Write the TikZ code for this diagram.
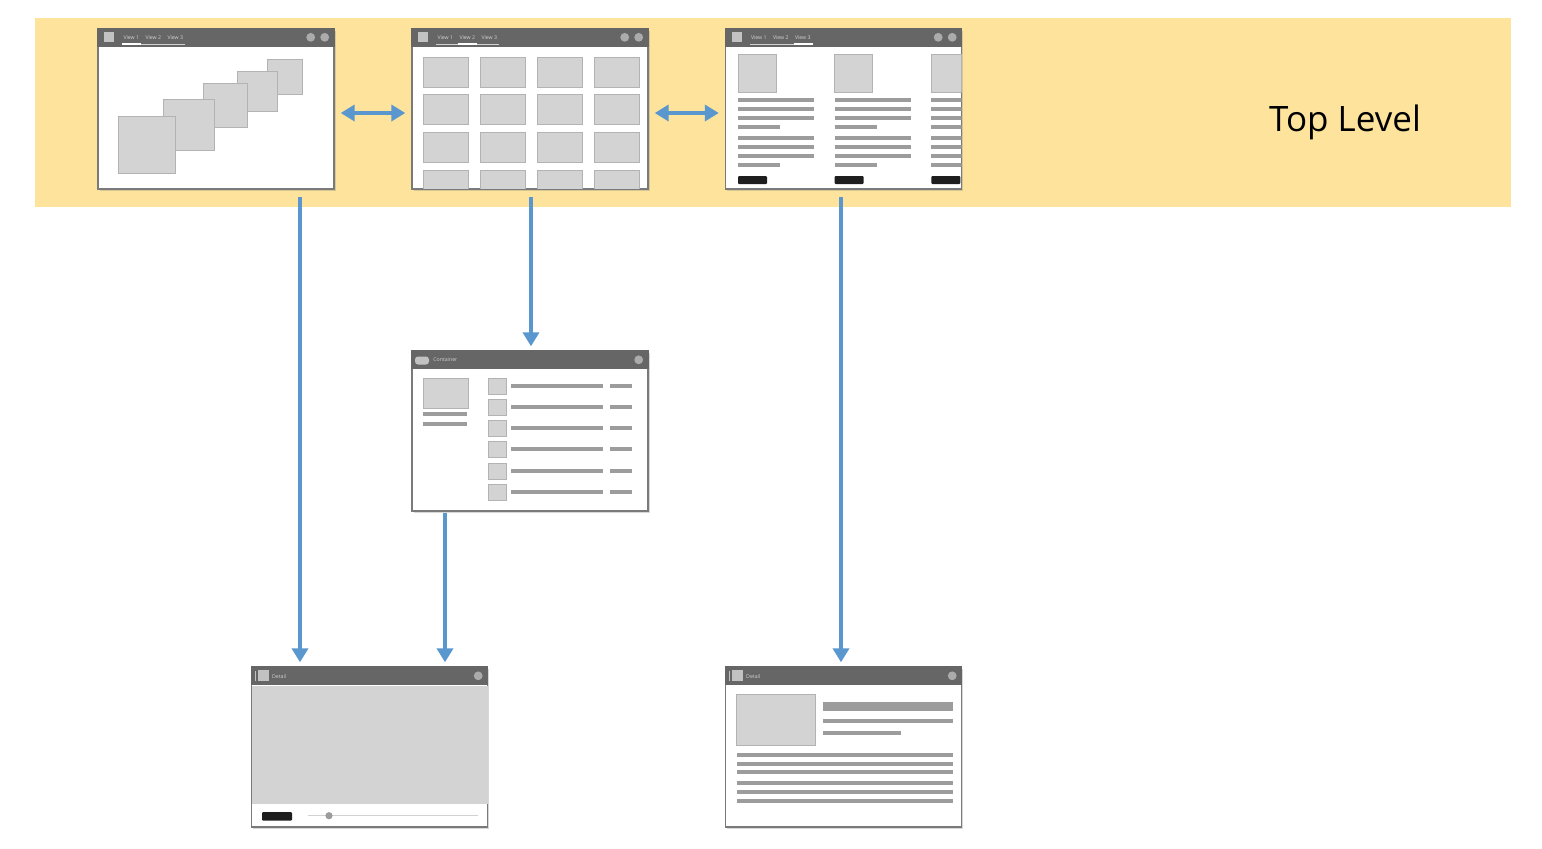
\documentclass[tikz,border=0pt]{standalone}
\usepackage{fontspec}
\setmainfont{Open Sans}
\usetikzlibrary{arrows.meta,positioning,calc,shadows}
\definecolor{tyellow}{HTML}{FDE39B}
\definecolor{tblue}{HTML}{5A97CF}
\definecolor{tbar}{HTML}{666666}
\definecolor{tframe}{HTML}{7A7A7A}
\definecolor{tph}{HTML}{D3D3D3}
\definecolor{tphl}{HTML}{B3B3B3}
\definecolor{tline}{HTML}{9C9C9C}
\definecolor{tdark}{HTML}{1E1E1E}
\tikzset{
  win/.style={draw=tframe,fill=white,line width=0.7pt,minimum width=118pt,minimum height=80pt,inner sep=0pt,
    drop shadow={shadow xshift=0.8pt,shadow yshift=-0.8pt,opacity=0.3}},
  bar/.style={fill=tbar},
  ph/.style={fill=tph,draw=tphl,line width=0.5pt},
  tl/.style={draw=tline,line width=2pt},
  btn/.style={fill=tdark,rounded corners=0.5pt},
  ico/.style={fill=white!60!tbar},
  dot/.style={fill=white!45!tbar},
  tab/.style={font=\fontsize{2.6}{3}\selectfont,text=white!70!tbar,inner sep=0pt},
  barr/.style={-{Triangle[length=7pt,width=8pt]},line width=2pt,draw=tblue,shorten <=3.5pt,shorten >=2pt},
  darr/.style={{Triangle[length=7pt,width=8pt]}-{Triangle[length=7pt,width=8pt]},line width=2pt,draw=tblue,shorten <=3pt,shorten >=3pt},
}
\begin{document}
\begin{tikzpicture}[x=0.5pt,y=-0.5pt]
  \fill[white] (0,0) rectangle (1542,848);
  \useasboundingbox (0,0) rectangle (1542,848);
  % faixa superior
  \fill[tyellow] (35,18) rectangle (1511,207);
  \node[font=\fontsize{17.5}{20}\selectfont] (toplevel) at (1345,122) {Top Level};
  % janelas
  \node[win] (w1) at (216,109) {};
  \node[win] (w2) at (530,109) {};
  \node[win] (w3) at (843.5,109) {};
  \node[win] (w4) at (530,431) {};
  \node[win] (w5) at (369.5,747) {};
  \node[win] (w6) at (843.5,747) {};
  \foreach \w in {w1,w2,w3,w4,w5,w6}
    \fill[bar] (\w.north west) rectangle ([yshift=-9.5pt]\w.north east);
  % barras com abas
  \foreach \w/\s in {w1/0,w2/1,w3/2} {
    \fill[ico] ($(\w.north west)+(7,4)$) rectangle ++(10,10);
    \foreach \t [count=\i from 0] in {View 1,View 2,View 3}
      \node[tab] at ($(\w.north west)+(34+\i*22,9)$) {\t};
    \draw[white!70!tbar,line width=0.4pt] ($(\w.north west)+(25,16)$) -- ++(63,0);
    \draw[white,line width=1pt] ($(\w.north west)+(25+\s*22,15.5)$) -- ++(19,0);
    \fill[dot] ($(\w.north east)+(-24,9)$) circle[radius=2.2pt];
    \fill[dot] ($(\w.north east)+(-10,9)$) circle[radius=2.2pt];
  }
  % barras simples
  \fill[ico,rounded corners=1.5pt] (415,356.5) rectangle (429,364.5);
  \node[tab,anchor=west] at (433,360) {Container};
  \foreach \w in {w5,w6} {
    \draw[white!60!tbar,line width=0.4pt] ($(\w.north west)+(5,5)$) -- ++(0,10);
    \fill[ico] ($(\w.north west)+(7,4)$) rectangle ++(11,11);
    \node[tab,anchor=west] at ($(\w.north west)+(21,10)$) {Detail};
  }
  \foreach \w in {w4,w5,w6}
    \fill[dot] ($(\w.north east)+(-10,9.5)$) circle[radius=2.2pt];
  % carrossel
  \foreach \x/\y/\s in {267/59/35,237/71/40,203/83/44,163/99/51,118/116/57}
    \draw[ph] (\x,\y) rectangle ++(\s,\s);
  % grade
  \begin{scope}
    \clip (413,48) rectangle (647,188.5);
    \foreach \i in {0,...,3}
      \foreach \j in {0,...,3}
        \draw[ph] ({423+\i*57},{57+\j*37.8}) rectangle ++(45,30);
  \end{scope}
  % cartões
  \begin{scope}
    \clip (726,48) rectangle (961.5,188.5);
    \foreach \c in {0,1,2} {
      \draw[ph] ({738+\c*96.7},54) rectangle ++(38,38);
      \foreach \y in {100,109,118,138,147,156}
        \draw[tl] ({738+\c*96.7},\y) -- ++(76,0);
      \foreach \y in {127,165}
        \draw[tl] ({738+\c*96.7},\y) -- ++(42,0);
      \fill[btn] ({738+\c*96.7},176) rectangle ++(29,8);
    }
  \end{scope}
  % lista
  \draw[ph] (423,378) rectangle (468,408);
  \draw[tl] (423,414) -- (467,414);
  \draw[tl] (423,423.5) -- (467,423.5);
  \foreach \k in {0,...,5} {
    \draw[ph] (488,{378+\k*21.3}) rectangle ++(18,16);
    \draw[tl] (511,{385.5+\k*21.3}) -- ++(92,0);
    \draw[tl] (610,{385.5+\k*21.3}) -- ++(22,0);
  }
  % vídeo
  \fill[tph] (251.5,686) rectangle (488,804);
  \fill[btn] (262,812) rectangle (292,820.5);
  \draw[white!55!tline,line width=0.6pt] (308,815.7) -- (478,815.7);
  \fill[tline] (329,815.7) circle[radius=1.8pt];
  % detalhe
  \draw[ph] (736,694) rectangle (815,745);
  \draw[tl,line width=4.5pt] (823,706) -- (953,706);
  \draw[tl] (823,721) -- (953,721);
  \draw[tl] (823,733) -- (901,733);
  \foreach \y in {754.7,763.5,772.3,783,792,801}
    \draw[tl] (737,\y) -- (953,\y);
  % setas
  \draw[darr] ([yshift=-2pt]w1.east) -- ([yshift=-2pt]w2.west);
  \draw[darr] ([yshift=-2pt]w2.east) -- ([yshift=-2pt]w3.west);
  \draw[barr] ([xshift=42pt]w1.south) -- ([xshift=42pt]w1.south |- w5.north);
  \draw[barr] ([xshift=0.5pt]w2.south) -- ([xshift=0.5pt]w4.north);
  \draw[barr] ([xshift=-1.25pt]w3.south) -- ([xshift=-1.25pt]w6.north);
  \draw[barr,shorten <=0.5pt] ([xshift=-42.5pt]w4.south) -- ([xshift=-42.5pt]w4.south |- w5.north);
\end{tikzpicture}
\end{document}
